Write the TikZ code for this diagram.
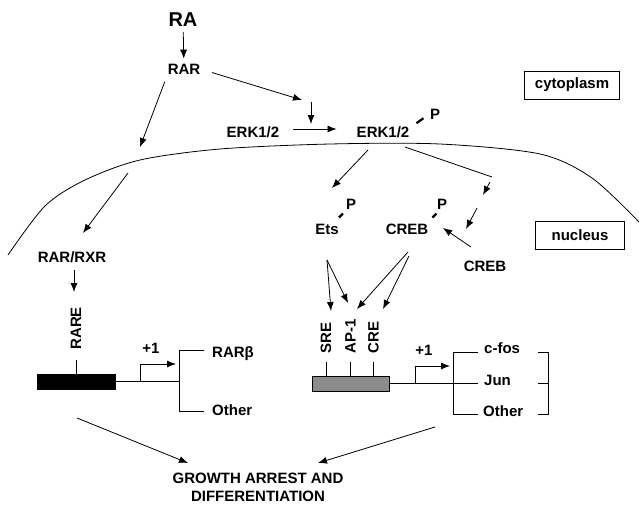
\documentclass[tikz,border=0pt]{standalone}
\usepackage{fontspec}
\setmainfont{Liberation Sans}
\usetikzlibrary{positioning,arrows.meta}
\tikzset{
  lbl/.style={font=\fontsize{15}{18}\selectfont\bfseries, inner sep=0pt},
  arr/.style={-{Latex[length=9pt,width=7pt]}, line width=0.8pt},
  ln/.style={line width=0.8pt},
  pdash/.style={line width=2.2pt},
  site/.style={lbl, rotate=90, anchor=west},
  tag/.style={lbl, draw, line width=0.8pt, minimum height=28pt},
}
\begin{document}
\begin{tikzpicture}[x=1pt,y=-1pt]
	\useasboundingbox (0,0) rectangle (639,504);
	% membrane
	\draw[ln] plot[smooth] coordinates {(8,255) (45,206) (85,180) (140,160) (220,149) (330,144) (440,144) (540,154) (592,178) (639,222)};
	
	\node[lbl, font=\fontsize{20}{22}\selectfont\bfseries] (ra) at (183,20) {RA};
	\node[lbl] (rar) at (184,69) {RAR};
	\node[lbl] (erkA) at (253,132) {ERK1/2};
	\node[lbl] (erkB) at (383,132) {ERK1/2};
	\node[lbl] (pErk) at (435,114) {P};
	\node[tag, minimum width=95pt] (cyto) at (572,85) {cytoplasm};
	\node[tag, minimum width=89pt] (nucl) at (580,235) {nucleus};
	
	\node[lbl] (rarrxr) at (72,257) {RAR/RXR};
	\node[lbl] (ets) at (327,229) {Ets};
	\node[lbl] (pEts) at (351,204) {P};
	\node[lbl] (creb) at (407,229) {CREB};
	\node[lbl] (pCreb) at (442,204) {P};
	\node[lbl] (crebB) at (485,266) {CREB};
	
	% cytoplasm arrows
	\coordinate (c1) at (302,100);
	\coordinate (c2) at (311,102);
	\coordinate (c3) at (311,124);
	\coordinate (c4) at (140,147);
	\draw[arr, shorten <=5pt, shorten >=5pt] (ra) -- (rar);
	\draw[arr, shorten <=12pt] (rar.east) -- (c1);
	\draw[arr] (c2) -- (c3);
	\draw[arr, shorten <=14pt, shorten >=20pt] ([yshift=3pt]erkA.east) -- ([yshift=3pt]erkB.west);
	\draw[arr, shorten <=8pt] (rar.south west) -- (c4);
	\draw[pdash] ([shift={(7,-3)}]erkB.north east) -- ++(7,-5);
	
	% nucleus arrows
	\coordinate (n1) at (128,173);
	\coordinate (n2) at (83,233);
	\coordinate (n3) at (74,270);
	\coordinate (n4) at (74,292);
	\draw[arr] (n1) -- (n2);
	\draw[arr] (n3) -- (n4);
	\coordinate (k0) at (368,150);
	\coordinate (k1) at (332,188);
	\draw[arr] (k0) -- (k1);
	\coordinate (k2) at (405,147);
	\coordinate (k3) at (492,177);
	\coordinate (k4) at (490,182);
	\coordinate (k5) at (483,195);
	\coordinate (k6) at (477,208);
	\coordinate (k7) at (466,229);
	\draw[ln] (k2) -- (k3);
	\draw[arr] (k4) -- (k5);
	\draw[arr] (k6) -- (k7);
	\coordinate (k8) at (471,247);
	\coordinate (k9) at (443,228);
	\draw[arr] (k8) -- (k9);
	\draw[pdash] ([shift={(0,-6)}]ets.north east) -- ++(4,-4);
	\draw[pdash] ([shift={(4,-6)}]creb.north east) -- ++(4,-4);
	
	% RARE gene
	\node[draw, fill=black, minimum width=78pt, minimum height=15pt, inner sep=0pt] (rareBox) at (76,381.5) {};
	\draw[ln] (rareBox.north) -- ++(0,-14) coordinate (rareTop);
	\node[site] (rare) at ([yshift=10pt]rareTop) {RARE};
	\coordinate (rp) at (140,381);
	\coordinate (rb) at (179,381);
	\draw[ln] (rareBox.east |- rb) -- (rb);
	\draw[arr] (rp) -- ++(0,-17) -- ++(36,0);
	\node[lbl] (plusA) at (151,348) {+1};
	\draw[ln] (204,350) -| (179,411) -- (204,411);
	\node[lbl, anchor=west] (rarb) at (212,354) {RARβ};
	\node[lbl, anchor=west] (othA) at (212,410) {Other};
	
	% c-fos gene
	\node[draw, fill=black!45, minimum width=77pt, minimum height=15pt, inner sep=0pt] (fosBox) at (350.5,383.5) {};
	\foreach \dx/\name/\txt in {-24.5/sre/SRE, 0/ap/AP-1, 23/cre/CRE} {
		\draw[ln] ([xshift=\dx pt]fosBox.north) -- ++(0,-14) coordinate (\name Top);
		\node[site] (\name) at ([yshift=8pt]\name Top) {\txt};
	}
	\coordinate (e1) at (327,260);
	\coordinate (e2) at (331,311);
	\coordinate (e3) at (348,303);
	\coordinate (r1) at (408,252);
	\coordinate (r2) at (409,256);
	\coordinate (r3) at (357,309);
	\coordinate (r4) at (383,309);
	\draw[arr] (e1) -- (e2);
	\draw[arr] (e1) -- (e3);
	\draw[arr] (r1) -- (r3);
	\draw[arr] (r2) -- (r4);
	\coordinate (fp) at (415,383);
	\coordinate (fb) at (478,383);
	\draw[ln] (fosBox.east |- fb) -- (fb);
	\draw[arr] (fp) -- ++(0,-17) -- ++(35,0);
	\node[lbl] (plusB) at (424,350) {+1};
	\draw[ln] (478,352) -| (453,414) -- (478,414);
	\draw[ln] (538,352) -| (548,414) -- (538,414);
	\draw[ln] (538,383) -- (548,383);
	\node[lbl, anchor=west] (fos) at (484,348) {c-fos};
	\node[lbl, anchor=west] (jun) at (484,380) {Jun};
	\node[lbl, anchor=west] (othB) at (483,411) {Other};
	
	% outcome
	\node[lbl, align=center] (growth) at (258,487) {GROWTH ARREST AND\\DIFFERENTIATION};
	\coordinate (g1) at (77,418);
	\coordinate (g2) at (188,463);
	\coordinate (g3) at (435,427);
	\coordinate (g4) at (318,463);
	\draw[arr] (g1) -- (g2);
	\draw[arr] (g3) -- (g4);
\end{tikzpicture}
\end{document}
